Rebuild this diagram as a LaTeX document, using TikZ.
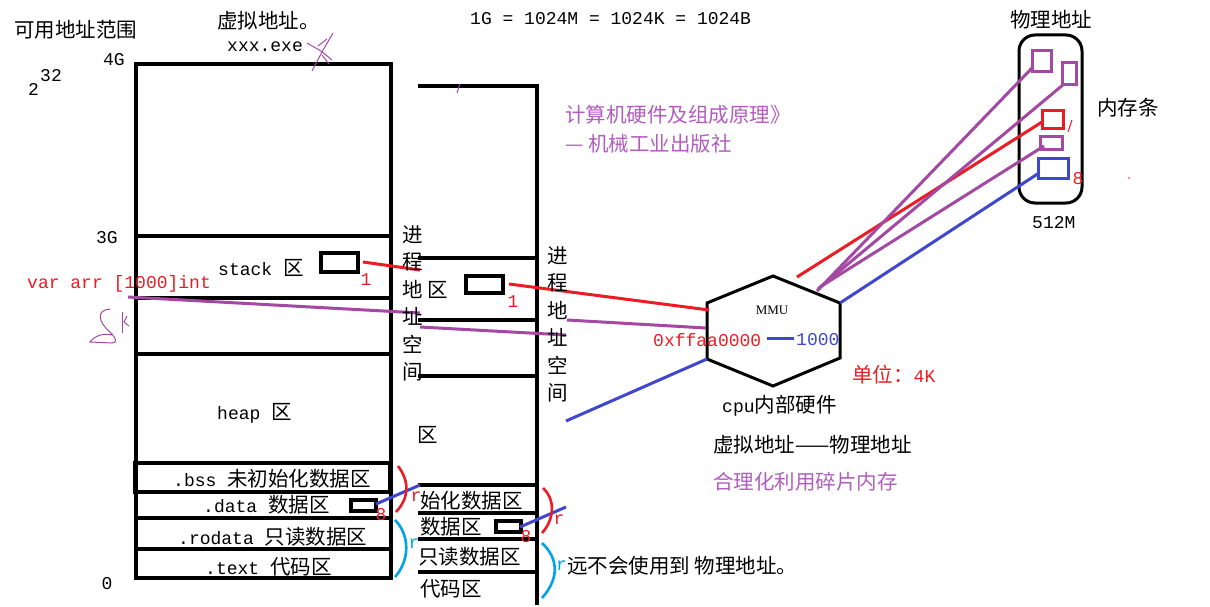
\documentclass[tikz,border=0pt]{standalone}
\usepackage{fontspec}
\setmainfont{Noto Sans CJK SC}
\setmonofont{Liberation Mono}
\newfontfamily\serifl{Liberation Serif}
\definecolor{pred}{HTML}{ED1C24}
\definecolor{ppur}{HTML}{A349A4}
\definecolor{pblue}{HTML}{3F48CC}
\definecolor{pcyan}{HTML}{00A2E8}
\definecolor{ptxt}{HTML}{B35CC0}
\newcommand\lat[1]{{\ttfamily\fontsize{18pt}{20pt}\selectfont #1}}
\begin{document}
\begin{tikzpicture}[x=1pt,y=-1pt,
  bx/.style={line width=3.2pt, line cap=rect},
  cl/.style={line width=3pt},
  br/.style={line width=2.6pt},
  scr/.style={ppur, line width=1pt},
  zh/.style={font=\fontsize{20.5pt}{24pt}\selectfont, inner sep=0pt},
  vt/.style={font=\fontsize{20.5pt}{27.5pt}\selectfont, inner sep=0pt, align=center},
  mo/.style={font=\ttfamily\fontsize{18pt}{20pt}\selectfont, inner sep=0pt}]
\useasboundingbox (0,0) rectangle (1210,607);
\fill[white] (0,0) rectangle (1210,607);

% ---------- left box ----------
\draw[bx] (136,64) rectangle (391,578);
\draw[bx] (136,236) -- (389,236);
\draw[bx] (136,298) -- (391,298);
\draw[bx] (136,354) -- (389,354);
\draw[bx] (135,463) rectangle (390,492);
\draw[bx] (136,518) -- (391,518);
\draw[bx] (136,549) -- (391,549);
\draw[bx] (321,253) rectangle (358,272);
\draw[bx] (351,500) rectangle (376,511);

% ---------- second box ----------
\draw[bx] (420,86) -- (537,86) -- (537,603);
\draw[bx] (420,258) -- (533,258);
\foreach \yy in {320,376,485,513,539,572} \draw[bx] (420,\yy) -- (537,\yy);
\draw[bx] (466,276) rectangle (503,293);
\draw[bx] (496,521) rectangle (521,532);

% ---------- hexagon MMU ----------
\coordinate (hT) at (773,276);
\coordinate (hUR) at (840,303);
\coordinate (hLR) at (840,358);
\coordinate (hB) at (773,386);
\coordinate (hLL) at (707,359);
\coordinate (hUL) at (707,303);
\draw[line width=3pt, line join=miter] (hT) -- (hUR) -- (hLR) -- (hB) -- (hLL) -- (hUL) -- cycle;
\node[font=\serifl\fontsize{13pt}{15pt}\selectfont, inner sep=0pt] (mmu) at (772,310) {MMU};

% ---------- memory stick ----------
\draw[line width=3pt, rounded corners=16pt] (1019,35) rectangle (1082,203);
\draw[ppur,cl] (1032,51) rectangle (1051,72);
\draw[ppur,cl] (1062,63) rectangle (1076,85);
\draw[pred,cl] (1042,111) rectangle (1063,129);
\draw[ppur,cl] (1040,137) rectangle (1062,150);
\draw[pblue,cl] (1038,159) rectangle (1068,178);

% ---------- coloured connectors ----------
\draw[pred,cl] (363,262) -- (420,270);
\draw[pred,cl] (509,284) -- (709,310);
\draw[ppur,cl] (128,297) -- (420,313);
\draw[ppur,cl] (420,327) -- (566,335);
\draw[ppur,cl] (567,320) -- (706,328);
\draw[pblue,cl] (566,421) -- (hLL);
\draw[pred,cl] (797,277) -- (1042,122);
\draw[ppur,cl] (817,291) -- (1033,67);
\draw[ppur,cl] (818,289) -- (1064,84);
\draw[ppur,cl] (820,287) -- (1044,146);
\draw[pblue,cl] (hUR) -- (1039,173);
\draw[pblue,cl] (376,504) -- (420,485);
\draw[pblue,cl] (520,527) -- (566,507);
\draw[pblue,cl] (767,338) -- (794,338);

% ---------- brackets ----------
\draw[pred,br] (398,466) .. controls (410,482) and (409,498) .. (396,512);
\draw[pcyan,br] (395,520) .. controls (410,535) and (410,560) .. (395,577);
\draw[pred,br] (543,488) .. controls (556,500) and (554,520) .. (542,533);
\draw[pcyan,br] (542,543) .. controls (560,560) and (558,580) .. (542,598);

% ---------- scribbles ----------
\draw[scr] (312,71) -- (322,52) -- (333,33);
\draw[scr] (307,43) -- (321,51) -- (332,60);
\draw[scr] (318,46) -- (327,39);
\draw[scr] (322,55) -- (329,64);
\draw[scr] (460,84) -- (457,93);
\draw[scr] (110,309) .. controls (96,310) and (98,322) .. (110,332) .. controls (116,338) and (118,343) .. (112,343) -- (90,342) .. controls (95,335) and (105,333) .. (112,335);
\draw[scr] (122,312) -- (122,333);
\draw[scr] (127,316) -- (124,322) -- (129,326);
\draw[pred,line width=1pt] (1072,120) -- (1068,132);
\fill[pred] (1129,178) circle (0.8);

% ---------- texts, left ----------
\node[zh,anchor=west] (t1) at (14,30) {可用地址范围};
\node[mo,anchor=east] (t4g) at (125,60) {4G};
\node[mo,anchor=west] (t2) at (28,89) {2};
\node[mo,anchor=west] (t32) at (40,76) {32};
\node[zh,anchor=west] (tv) at (217,21) {虚拟地址。};
\node[mo,anchor=west] (tx) at (227,47) {xxx.exe};
\node[mo,anchor=west] (tg) at (470,19) {1G = 1024M = 1024K = 1024B};
\node[mo,anchor=east] (t3g) at (118,238) {3G};
\node[zh,anchor=west] (tst) at (218,268) {\lat{stack }区};
\node[mo,text=pred] (n1a) at (366,280) {1};
\node[mo,anchor=west,text=pred] (tvar) at (27,284) {var arr [1000]int};
\node[zh,anchor=west] (thp) at (217,413) {\lat{heap }区};
\node[zh,anchor=west] (tbss) at (173,479) {\lat{.bss }未初始化数据区};
\node[zh,anchor=west] (tdat) at (203,505) {\lat{.data }数据区};
\node[zh,anchor=west] (trod) at (178,537) {\lat{.rodata }只读数据区};
\node[zh,anchor=west] (ttxt) at (205,567) {\lat{.text }代码区};
\node[mo] (t0) at (107,584) {0};
\node[mo,text=pred] (n8a) at (381,515) {8};
\node[mo,text=pred] (ra) at (416,497) {r};
\node[mo,text=pcyan] (rb) at (414,544) {r};

% ---------- texts, second box ----------
\node[vt] (vc1) at (413,303.5) {进\\程\\地\\址\\空\\间};
\node[vt] (vc2) at (558,324.5) {进\\程\\地\\址\\空\\间};
\node[zh] (q1) at (438,290) {区};
\node[mo,text=pred] (n1b) at (513,302) {1};
\node[zh] (q2) at (428,435) {区};
\node[zh,anchor=west] (s1) at (420,501) {始化数据区};
\node[zh,anchor=west] (s2) at (420,527) {数据区};
\begin{scope}
\clip (420,541) rectangle (535,571);
\node[zh,anchor=west] (s3) at (418,557) {只读数据区};
\end{scope}
\node[zh,anchor=west] (s4) at (420,589) {代码区};
\node[mo,text=pred] (n8b) at (526,537) {8};
\node[mo,text=pred] (rc) at (559,520) {r};
\node[mo,text=pcyan,anchor=west] (rd) at (556,566) {r};
\node[zh,anchor=west] (tyuan) at (567,566) {远不会使用到 物理地址。};

% ---------- texts, right ----------
\node[zh,anchor=west,text=ptxt] (bk1) at (565,115) {计算机硬件及组成原理》};
\node[zh,anchor=west,text=ptxt] (bk2) at (565,144) {— 机械工业出版社};
\node[zh,anchor=west] (tphy) at (1010,20) {物理地址};
\node[zh,anchor=west] (tmem) at (1097,108) {内存条};
\node[mo,anchor=west] (t512) at (1032,223) {512M};
\node[mo,text=pred] (n8c) at (1078,179) {8};
\node[mo,anchor=west,text=pred] (thex) at (653,340) {0xffaa0000};
\node[mo,anchor=west,text=pblue] (t1000) at (796,340) {1000};
\node[zh,anchor=west,text=pred] (tunit) at (852,375) {单位：\lat{4K}};
\node[zh,anchor=west] (tcpu) at (722,406) {\lat{cpu}内部硬件};
\node[zh,anchor=west] (tvp) at (713,445) {虚拟地址——物理地址};
\node[zh,anchor=west,text=ptxt] (thl) at (713,482) {合理化利用碎片内存};
\end{tikzpicture}
\end{document}
